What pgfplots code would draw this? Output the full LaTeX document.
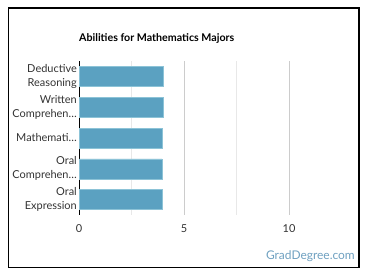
\documentclass[border=0pt]{standalone}
\usepackage{fontspec}
\setmainfont{Lato}
\usepackage{pgfplots}
\pgfplotsset{compat=1.18}
\definecolor{barc}{RGB}{91,161,193}
\definecolor{bare}{RGB}{140,195,215}
\definecolor{txt}{RGB}{51,51,51}
\definecolor{wm}{RGB}{110,160,192}
\begin{document}
\begin{tikzpicture}[x=1bp,y=1bp]
\path[use as bounding box] (0,0) rectangle (370,278);
\draw[black, line width=1.1bp] (8.5,10.5) rectangle (359,270);
\node[anchor=base west, font=\bfseries\fontsize{10.7}{12}\selectfont, text=black, inner sep=0] at (79,237) {Abilities for Mathematics Majors};
\begin{axis}[
  at={(79bp,63bp)}, anchor=south west, scale only axis,
  width=273bp, height=154bp,
  xmin=0, xmax=13, ymin=-0.5, ymax=4.5,
  xbar, bar width=20bp,
  axis lines*=left,
  x axis line style={draw=none},
  y axis line style={black, line width=0.8bp},
  xtick={0,5,10}, minor xtick={2.5,7.5},
  xmajorgrids, xminorgrids,
  major grid style={color=black!20, line width=0.6bp},
  minor grid style={color=black!9, line width=0.6bp},
  major tick length=0pt, minor tick length=0pt,
  ytick={0,1,2,3,4},
  yticklabels={{Oral\\Expression},{Oral\\Comprehen…},{Mathemati…},{Written\\Comprehen…},{Deductive\\Reasoning}},
  yticklabel style={align=right, font=\fontsize{11}{14}\selectfont, text=txt, inner xsep=2bp},
  xticklabel style={font=\fontsize{11}{12}\selectfont, text=txt, yshift=-6bp},
  /pgf/number format/assume math mode=true,
  clip=false,
]
\addplot[fill=barc, draw=bare, line width=0.6bp] coordinates {(3.95,0) (3.95,1) (3.95,2) (4.0,3) (4.0,4)};
\end{axis}
\node[anchor=east, font=\fontsize{12}{14}\selectfont, text=wm, inner sep=0] at (355,22) {GradDegree.com};
\end{tikzpicture}
\end{document}
